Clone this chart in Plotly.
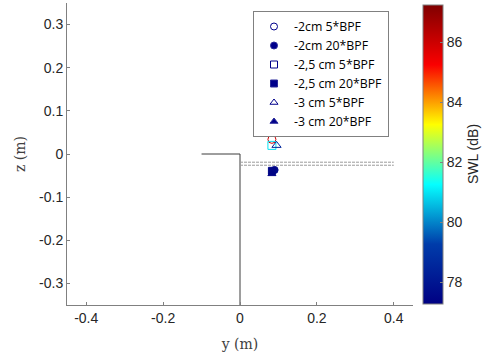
import plotly.graph_objects as go
from plotly.colors import sample_colorscale

# ---- data ----
series_names = ["-2cm 5*BPF", "-2cm 20*BPF", "-2,5 cm 5*BPF", "-2,5 cm 20*BPF", "-3 cm 5*BPF", "-3 cm 20*BPF"]
series_symbols = ["circle-open", "circle", "square-open", "square", "triangle-up-open", "triangle-up"]
y_vals = [0.083, 0.090, 0.083, 0.083, 0.095, 0.083]
z_vals = [0.034, -0.037, 0.020, -0.039, 0.020, -0.046]
swl_vals = [86.0, 77.6, 81.0, 77.5, 78.6, 77.4]

# geometry lines
wall_y = [-0.1, 0.0, 0.0]
wall_z = [0.0, 0.0, -0.35]
plate_y = [0.0, 0.4]
plate_z_top = [-0.019, -0.019]
plate_z_bot = [-0.026, -0.026]

cmin, cmax = 77.3, 87.27
x_ticks = [-0.4, -0.2, 0, 0.2, 0.4]
z_ticks = [-0.3, -0.2, -0.1, 0, 0.1, 0.2, 0.3]
cb_ticks = [78, 80, 82, 84, 86]

fig = go.Figure()

fig.add_trace(go.Scatter(x=wall_y, y=wall_z, mode="lines",
                         line=dict(color="#3c3c3c", width=1), showlegend=False, hoverinfo="skip"))
for pz in (plate_z_top, plate_z_bot):
    fig.add_trace(go.Scatter(x=plate_y, y=pz, mode="lines",
                             line=dict(color="#9a9a9a", width=1, dash="3px,1px"),
                             showlegend=False, hoverinfo="skip"))

# data points coloured by SWL (colours sampled from the Jet scale)
for i, name in enumerate(series_names):
    is_open = "open" in series_symbols[i]
    col = sample_colorscale("Jet", [(swl_vals[i] - cmin) / (cmax - cmin)])[0]
    fig.add_trace(go.Scatter(
        x=[y_vals[i]], y=[z_vals[i]], mode="markers", showlegend=False, name=name,
        marker=dict(symbol=series_symbols[i], size=8 if is_open else 7, color=col,
                    line=dict(width=1, color=col))))

# colorbar carrier
fig.add_trace(go.Scatter(
    x=[None], y=[None], mode="markers", showlegend=False, hoverinfo="skip",
    marker=dict(color=[cmin], colorscale="Jet", cmin=cmin, cmax=cmax, showscale=True,
                colorbar=dict(x=423 / 488, xanchor="left", xref="container", xpad=0,
                              y=0.5, yanchor="middle", ypad=0,
                              len=299 / 302, thickness=20, outlinecolor="#808080", outlinewidth=1,
                              tickvals=cb_ticks, ticks="inside", ticklen=3, tickcolor="#808080",
                              tickfont=dict(family="Liberation Sans", size=14, color="#262626"),
                              title=dict(text="SWL (dB)", side="right",
                                         font=dict(family="Liberation Sans", size=14, color="#262626"))))))

# legend entries (navy)
for i, name in enumerate(series_names):
    fig.add_trace(go.Scatter(
        x=[None], y=[None], mode="markers", name=name,
        marker=dict(symbol=series_symbols[i], size=7, color="#00008b",
                    line=dict(width=1, color="#2a2a9a"))))

axis_common = dict(showgrid=False, zeroline=False, showline=True, linecolor="#808080", linewidth=1,
                   ticks="inside", ticklen=3, tickcolor="#808080",
                   tickfont=dict(family="Liberation Sans", size=14, color="#262626"))

fig.update_layout(
    width=488, height=356,
    margin=dict(l=67, r=75, t=3, b=51, autoexpand=False),
    paper_bgcolor="white", plot_bgcolor="white",
    xaxis=dict(range=[-0.45, 0.45], tickvals=x_ticks, ticktext=["-0.4", "-0.2", "0", "0.2", "0.4"],
               title=dict(text="y (m)", standoff=14, font=dict(family="DejaVu Serif", size=14, color="#404040")),
               **axis_common),
    yaxis=dict(range=[-0.35, 0.35], tickvals=z_ticks, ticktext=["-0.3", "-0.2", "-0.1", "0", "0.1", "0.2", "0.3"],
               title=dict(text="z (m)", standoff=10, font=dict(family="DejaVu Serif", size=14, color="#404040")),
               **axis_common),
    legend=dict(x=(253 - 67) / 346, y=1 - (11 - 3) / 302, xanchor="left", yanchor="top", bgcolor="white",
                bordercolor="#808080", borderwidth=1, tracegroupgap=0,
                font=dict(family="Open Sans", size=12.3, color="#000000")),
    showlegend=True,
)

fig.write_html("out.html")
